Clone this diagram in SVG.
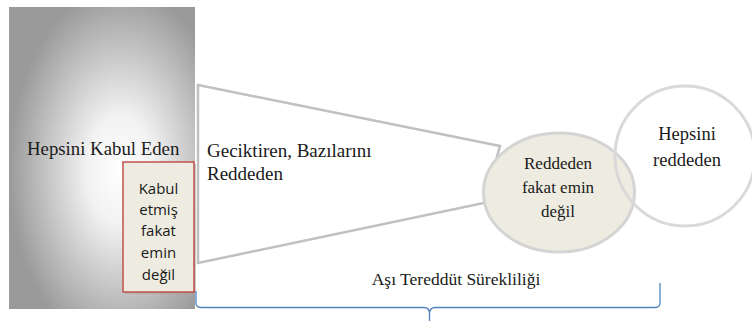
<svg xmlns="http://www.w3.org/2000/svg" width="752" height="321" viewBox="0 0 752 321">
<defs>
<radialGradient id="g1" cx="0.6" cy="0.54" r="0.6" fx="0.6" fy="0.54">
<stop offset="0" stop-color="#ffffff"/>
<stop offset="0.3" stop-color="#f2f2f2"/>
<stop offset="1" stop-color="#9a9a9a"/>
</radialGradient>
<style>
.serif{font-family:"Liberation Serif","Times New Roman",serif;fill:#1a1a1a}
.sans{font-family:"Open Sans","Liberation Sans",sans-serif;fill:#1a1a1a;font-size:15px}
</style>
</defs>
<rect width="752" height="321" fill="#ffffff"/>
<g id="accept-all">
<rect x="9" y="7" width="186" height="302" fill="url(#g1)"/>
<text class="serif" x="27" y="155" font-size="18.8">Hepsini Kabul Eden</text>
</g>
<g id="delay">
<polygon points="198,85 500,146 484,203 198,263" fill="#ffffff" stroke="#c0c0c0" stroke-width="2.5"/>
<text class="serif" x="207" y="157" font-size="19">Geciktiren, Bazılarını</text>
<text class="serif" x="207" y="180" font-size="19">Reddeden</text>
</g>
<g id="not-sure-accept">
<rect x="125" y="164" width="71" height="130" fill="#a0a0a0" opacity="0.5"/>
<rect x="123" y="162" width="71" height="130" fill="#eeece1" stroke="#c0504d" stroke-width="1.5"/>
<text class="sans" x="158.5" y="194" text-anchor="middle">Kabul</text>
<text class="sans" x="158.5" y="215" text-anchor="middle">etmiş</text>
<text class="sans" x="158.5" y="236" text-anchor="middle">fakat</text>
<text class="sans" x="158.5" y="258" text-anchor="middle">emin</text>
<text class="sans" x="158.5" y="280" text-anchor="middle">değil</text>
</g>
<g id="reject-not-sure">
<ellipse cx="559" cy="192.5" rx="75.5" ry="59.5" fill="#eeece1" stroke="#d4d4d4" stroke-width="3"/>
<text class="serif" x="558" y="169" font-size="17" text-anchor="middle">Reddeden</text>
<text class="serif" x="558" y="193" font-size="17" text-anchor="middle">fakat emin</text>
<text class="serif" x="558" y="217" font-size="17" text-anchor="middle">değil</text>
</g>
<g id="reject-all">
<circle cx="685" cy="156" r="70" fill="none" stroke="#d9d9d9" stroke-width="3"/>
<text class="serif" x="687" y="140" font-size="18.5" text-anchor="middle">Hepsini</text>
<text class="serif" x="687" y="166" font-size="18.5" text-anchor="middle">reddeden</text>
</g>
<g id="connectors">
<path d="M196,291 V303 Q196,307.5 201,307.5 H424 Q429,307.5 429.5,313 V321 M429.5,313 Q430,307.5 435,307.5 H655 Q660,307.5 660,303 V283" fill="none" stroke="#4f81bd" stroke-width="1.3"/>
<text class="serif" x="456" y="285" font-size="17.5" text-anchor="middle">Aşı Tereddüt Sürekliliği</text>
</g>
</svg>
